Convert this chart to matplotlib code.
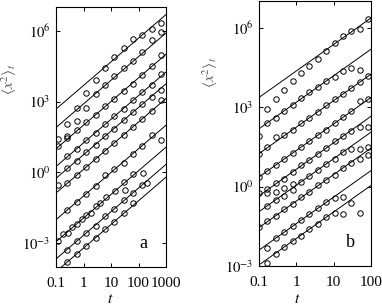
import numpy as np
import matplotlib
matplotlib.use('Agg')
import matplotlib.pyplot as plt
from matplotlib.ticker import FixedLocator, FixedFormatter, NullLocator

plt.rcParams['font.family'] = ['Liberation Serif', 'DejaVu Serif']
plt.rcParams['mathtext.fontset'] = 'stix'

nan = np.nan

# ---------------- Panel a data (log10 of <x^2>) ----------------
ta = [0.12, 0.26, 0.58, 1.26, 2.75, 6.0, 13.2, 28.8, 63, 138, 302, 660]
a_s1 = [nan, 2.06, 2.72, 3.35, 3.93, 4.44, 4.87, 5.25, 5.63, 5.82, 6.05, 6.32]
a_s2 = [1.43, 1.54, 2.17, 2.72, 3.32, 3.71, 4.09, 4.44, 4.72, 5.10, 5.60, 5.95]
a_s3 = [1.10, 1.47, 1.80, 2.12, 2.45, 2.80, 3.11, 3.43, 3.74, 4.13, 4.51, 4.98]
a_s4 = [nan, 0.70, 1.00, 1.38, 1.68, 2.05, 2.40, 2.70, 3.05, 3.40, 3.70, 4.15]
a_s5 = [nan, 0.20, 0.50, 0.87, 1.18, 1.55, 1.85, 2.22, 2.55, 2.90, 3.20, 3.50]
a_s6 = [-0.54, -0.45, -0.12, 0.25, 0.55, 0.92, 1.25, 1.60, 1.92, 2.25, 2.60, 3.05]
a_s7 = [nan, -1.60, -1.25, -0.90, -0.58, -0.12, 0.13, 0.42, 0.78, 1.12, 1.57, 1.39]
a_t8 = [0.12, 0.178, 0.263, 0.389, 0.575, 0.851, 1.26, 1.86, 2.75, 4.07, 6.6,
        14.1, 30.2, 32.4, 61.7, 148, 200]
a_s8 = [-2.90, -2.62, -2.55, -2.30, -2.20, -1.95, -1.80, -1.70, -1.40, -1.30,
        -1.03, -0.78, -0.40, -0.75, -0.05, -0.02, -0.44]
a_s9 = [nan, -3.30, -2.92, -2.55, -2.25, -1.85, -1.55, -1.15, -0.85, -0.55, nan, nan]
a_s10 = [nan, -3.78, -3.45, -3.12, -2.78, -2.40, -2.10, -1.72, -1.30, nan, nan, nan]
# fitted lines: log10 of prefactor D in <x^2> = D t
a_lines = [3.68, 2.9, 2.0, 1.25, 0.75, 0.13, -1.0, -1.93, -2.66, -3.2]

# ---------------- Panel b data (log10 of <x^2>) ----------------
tb = [0.1, 0.168, 0.282, 0.473, 0.794, 1.33, 2.24, 3.76, 6.31, 10.6, 17.8, 29.9, 50.1, 84.1]
b_s1 = [nan, 2.94, 3.30, 3.64, 3.99, 4.30, 4.56, 4.81, 5.12, 5.40, 5.68, 5.85, 5.94, 6.31]
b_s2 = [1.92, 2.38, 2.58, 2.84, 3.08, 3.34, 3.55, 3.74, 3.97, 4.14, 4.37, 4.47, 4.39, nan]
b_s3 = [1.24, 1.50, 1.86, 1.95, 2.15, 2.40, 2.60, 2.80, 3.06, 3.30, 3.48, 3.72, 3.93, 4.18]
b_s4 = [0.36, 0.60, 0.82, 1.02, 1.28, 1.50, 1.70, 1.95, 2.15, 2.40, 2.62, 2.85, 3.24, 3.30]
b_s5 = [-0.25, -0.10, 0.12, 0.30, 0.55, 0.80, 1.00, 1.22, 1.45, 1.70, 1.92, 2.10, 2.26, 2.24]
b_s6 = [nan, -0.72, -0.50, -0.35, -0.15, 0.18, 0.40, 0.62, 0.85, 1.05, 1.30, 1.42, 1.42, 1.50]
b_s6u = [nan, -0.25, -0.20, -0.05, 0.10, nan, nan, nan, nan, nan, nan, nan, nan, nan]
b_s7 = [-1.52, -1.30, -1.10, -0.85, -0.65, -0.40, -0.20, 0.05, 0.25, 0.45, 0.70, 0.90, 1.05, 1.20]
b_s8 = [nan, -2.32, -1.95, -1.70, -1.50, -1.25, -1.05, -0.80, -0.60, -0.42, -0.39, -0.64, nan, nan]
b_s9 = [nan, -2.90, -2.55, -2.30, -2.05, -1.85, -1.60, -1.40, -1.15, -1.00, -1.02, nan, -0.99, nan]
b_lines = [4.36, 3.18, 2.24, 1.36, 0.65, 0.05, -0.55, -1.4, -1.96]

W, H = 382, 306
fig = plt.figure(figsize=(W / 100, H / 100), dpi=100)


def px_axes(l, r, t, b):
    return fig.add_axes([l / W, 1 - b / H, (r - l) / W, (b - t) / H])


axa = px_axes(56, 166, 7, 267)
axb = px_axes(259, 371, 1, 266)

mk = dict(ls='none', marker='o', ms=3.9, mfc='none', mec='black', mew=0.7)


def draw(ax, series_list, lines, xlim):
    tl = np.array([1e-3, 1e5])
    for L in lines:
        ax.plot(tl, 10 ** L * tl, color='black', lw=0.7)
    for t, s in series_list:
        ax.plot(t, np.power(10.0, s), **mk)
    ax.set_xscale('log')
    ax.set_yscale('log')
    ax.set_xlim(*xlim)


draw(axa, [(ta, a_s1), (ta, a_s2), (ta, a_s3), (ta, a_s4), (ta, a_s5), (ta, a_s6),
           (ta, a_s7), (a_t8, a_s8), (ta, a_s9), (ta, a_s10)], a_lines, (0.1, 1000))
axa.set_ylim(1e-4, 1e7)

draw(axb, [(tb, b_s1), (tb, b_s2), (tb, b_s3), (tb, b_s4), (tb, b_s5), (tb, b_s6),
           (tb, b_s6u), (tb, b_s7), (tb, b_s8), (tb, b_s9)], b_lines, (0.1, 100))
axb.set_ylim(1e-3, 1e7)

ytick_vals = [1e-3, 1e0, 1e3, 1e6]
ytick_labels = [r'$10^{-3}$', r'$10^{0}$', r'$10^{3}$', r'$10^{6}$']
xa_vals = [0.1, 1, 10, 100, 1000]
xa_labels = ['0.1', '1', '10', '100', '1000']
xb_vals = [0.1, 1, 10, 100]
xb_labels = ['0.1', '1', '10', '100']

for ax, xv, xl in [(axa, xv_ := xa_vals, xa_labels), (axb, xb_vals, xb_labels)]:
    ax.xaxis.set_major_locator(FixedLocator(xv))
    ax.xaxis.set_major_formatter(FixedFormatter(xl))
    ax.yaxis.set_major_locator(FixedLocator(ytick_vals))
    ax.yaxis.set_major_formatter(FixedFormatter(ytick_labels))
    ax.xaxis.set_minor_locator(NullLocator())
    ax.yaxis.set_minor_locator(NullLocator())
    ax.tick_params(which='both', direction='in', top=True, right=True,
                   length=3, width=0.7, colors='black')
    ax.tick_params(axis='x', pad=7, labelsize=11)
    ax.tick_params(axis='y', pad=4, labelsize=10.5)
    for sp in ax.spines.values():
        sp.set_linewidth(0.8)
    ax.set_xlabel(r'$t$', fontsize=11)
    ax.set_ylabel(r'$\langle x^2\rangle_t$', fontsize=11, color='0.35')

axa.xaxis.set_label_coords(0.49, -0.1)
axb.xaxis.set_label_coords(0.34, -0.102)
axa.yaxis.set_label_coords(-0.34, 0.72)
axb.yaxis.set_label_coords(-0.35, 0.73)

axa.text(0.79, 0.092, 'a', transform=axa.transAxes, ha='center', va='center', fontsize=13)
axb.text(0.82, 0.087, 'b', transform=axb.transAxes, ha='center', va='center', fontsize=13)

fig.savefig('out.png', dpi=100)
